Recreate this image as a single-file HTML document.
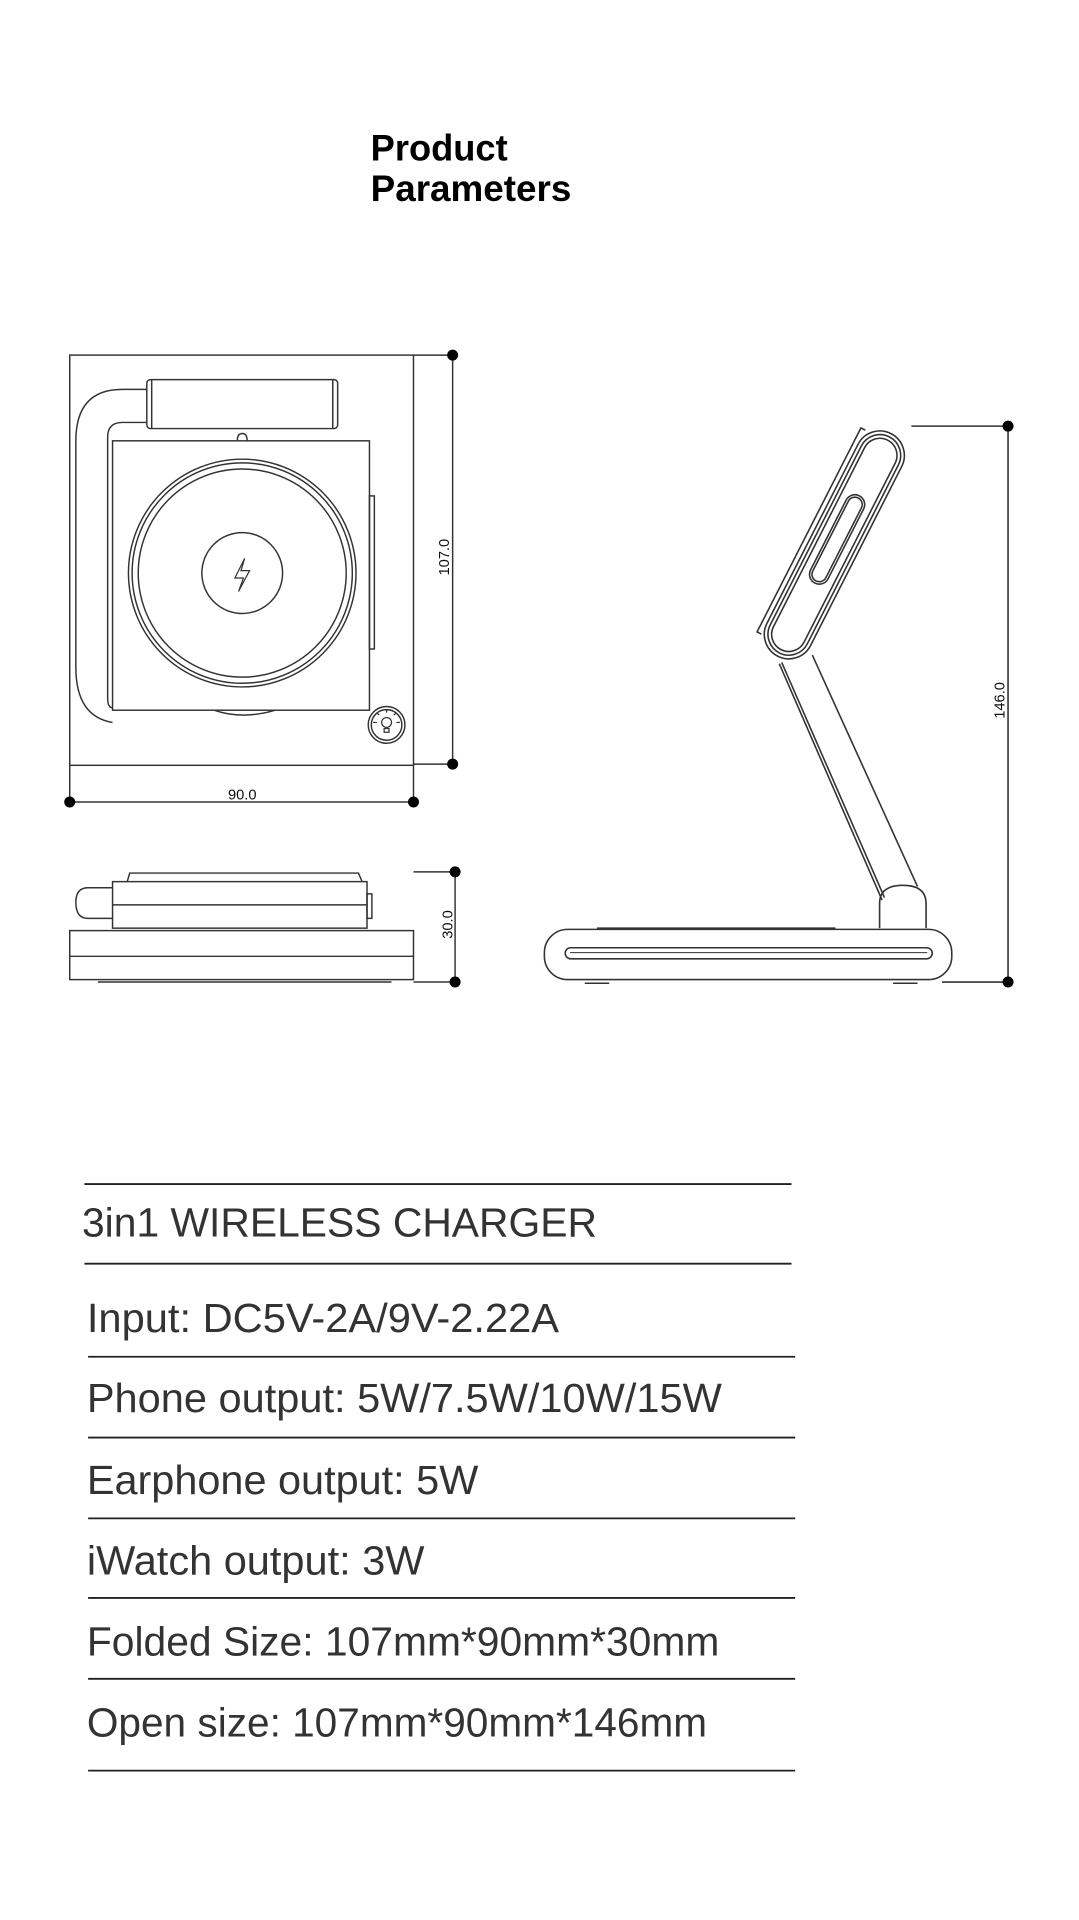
<!DOCTYPE html>
<html><head><meta charset="utf-8"><style>
html,body{margin:0;padding:0;background:#fff;}
svg{display:block;}
</style></head><body>
<svg width="1079" height="1920" viewBox="0 0 882 1568" preserveAspectRatio="none" xmlns="http://www.w3.org/2000/svg">
<rect width="882" height="1568" fill="#fff"/>
<g font-family="Liberation Sans, sans-serif" font-weight="bold" fill="#000" font-size="30">
<text x="303" y="131" textLength="112" lengthAdjust="spacingAndGlyphs">Product</text>
<text x="303" y="164" textLength="164" lengthAdjust="spacingAndGlyphs">Parameters</text>
</g>

<!-- Top view -->
<g fill="none" stroke="#333" stroke-width="1.2">
<rect x="57" y="290" width="281" height="335"/>
<line x1="338" y1="290" x2="370" y2="290"/>
<line x1="338" y1="624" x2="370" y2="624"/>
<line x1="370" y1="290" x2="370" y2="624"/>
<line x1="57" y1="625" x2="57" y2="655"/>
<line x1="338" y1="625" x2="338" y2="655"/>
<line x1="57" y1="655" x2="338" y2="655"/>
<rect x="120" y="310" width="156" height="40" rx="3"/>
<line x1="124" y1="310" x2="124" y2="350"/>
<line x1="272" y1="310" x2="272" y2="350"/>
<path d="M120 318 H100 Q62 318 62 360 V545 Q62 585 92 590"/>
<path d="M120 345 H100 Q88 345 88 357 V570 Q88 578 92 578"/>
<rect x="92" y="360" width="210" height="220"/>
<path d="M194 360 Q194 354 198 354 Q202 354 202 360"/>
<rect x="302" y="405" width="4" height="125"/>
<path d="M175 580 Q198 588 225 580"/>
<circle cx="198" cy="468" r="93"/>
<circle cx="198" cy="468" r="90"/>
<circle cx="198" cy="468" r="85"/>
<circle cx="198" cy="468" r="33"/>
<path d="M200 456 L192 472 H199 L195 483 L204 466 H197 Z" stroke-width="1"/>
<circle cx="316" cy="592" r="15"/>
<circle cx="316" cy="592" r="12.5"/>
<circle cx="316" cy="590" r="4" stroke-width="1"/>
<path d="M316 582 V579 M308 590 H305 M324 590 H327 M310 584 L308 582 M322 584 L324 582 M314 595 H318 V598 H314 Z" stroke-width="1"/>
</g>
<g fill="#000">
<circle cx="370" cy="290" r="4.5"/><circle cx="370" cy="624" r="4.5"/>
<circle cx="57" cy="655" r="4.5"/><circle cx="338" cy="655" r="4.5"/>
</g>
<g font-family="Liberation Sans, sans-serif" font-size="12" fill="#111">
<text x="198" y="653" text-anchor="middle">90.0</text>
<text transform="translate(367,455) rotate(-90)" text-anchor="middle">107.0</text>
<text transform="translate(370,755) rotate(-90)" text-anchor="middle">30.0</text>
<text transform="translate(821,572) rotate(-90)" text-anchor="middle">146.0</text>
</g>

<!-- Folded side view -->
<g fill="none" stroke="#333" stroke-width="1.2">
<path d="M104 720 L106 713 H293 L296 720"/>
<rect x="92" y="720" width="208" height="38"/>
<line x1="92" y1="739" x2="300" y2="739"/>
<rect x="300" y="730" width="4" height="20"/>
<path d="M92 725 H72 Q62 725 62 737 Q62 750 72 750 H92"/>
<rect x="57" y="760" width="281" height="40"/>
<line x1="57" y1="781" x2="338" y2="781"/>
<line x1="80" y1="802" x2="320" y2="802"/>
<line x1="338" y1="712" x2="372" y2="712"/>
<line x1="338" y1="802" x2="372" y2="802"/>
<line x1="372" y1="712" x2="372" y2="802"/>
</g>
<g fill="#000"><circle cx="372" cy="712" r="4.5"/><circle cx="372" cy="802" r="4.5"/></g>

<!-- Open side view -->
<g fill="none" stroke="#333" stroke-width="1.3">
<rect x="445" y="759" width="333" height="41" rx="19"/>
<rect x="462" y="774" width="300" height="9" rx="4.5"/>
<line x1="466" y1="778" x2="758" y2="778" stroke-width="0.8"/>
<line x1="488" y1="758" x2="683" y2="758"/>
<line x1="478" y1="803" x2="498" y2="803"/>
<line x1="730" y1="803" x2="750" y2="803"/>
<path d="M719 758 V738 Q719 723 738 723 Q757 723 757 738 V758"/>
<line x1="721" y1="735" x2="637" y2="542"/>
<line x1="723" y1="733" x2="639" y2="541"/>
<line x1="750" y1="724" x2="664" y2="535"/>
<g transform="translate(682,445) rotate(27)">
<rect x="-20" y="-102" width="40" height="204" rx="20"/>
<rect x="-17" y="-99" width="34" height="198" rx="17"/>
<rect x="-14" y="-96" width="28" height="192" rx="14"/>
<rect x="-8" y="-45" width="16" height="80" rx="8"/>
<rect x="-6" y="-43" width="12" height="76" rx="6"/>
<path d="M-20 -95 H-24 V92 H-20"/>
</g>
<line x1="745" y1="348" x2="824" y2="348"/>
<line x1="770" y1="802" x2="824" y2="802"/>
<line x1="824" y1="348" x2="824" y2="802"/>
</g>
<g fill="#000"><circle cx="824" cy="348" r="4.5"/><circle cx="824" cy="802" r="4.5"/></g>

<!-- Table -->
<g stroke="#222" stroke-width="1.5">
<line x1="69" y1="967" x2="647" y2="967"/>
<line x1="69" y1="1032" x2="647" y2="1032"/>
<line x1="72" y1="1108" x2="650" y2="1108"/>
<line x1="72" y1="1174" x2="650" y2="1174"/>
<line x1="72" y1="1240" x2="650" y2="1240"/>
<line x1="72" y1="1305" x2="650" y2="1305"/>
<line x1="72" y1="1371" x2="650" y2="1371"/>
<line x1="72" y1="1446" x2="650" y2="1446"/>
</g>
<g font-family="Liberation Sans, sans-serif" font-size="33" fill="#333">
<text x="67" y="1010" textLength="421" lengthAdjust="spacingAndGlyphs">3in1 WIRELESS CHARGER</text>
<text x="71" y="1088" textLength="386" lengthAdjust="spacingAndGlyphs">Input: DC5V-2A/9V-2.22A</text>
<text x="71" y="1153" textLength="519" lengthAdjust="spacingAndGlyphs">Phone output: 5W/7.5W/10W/15W</text>
<text x="71" y="1220" textLength="320" lengthAdjust="spacingAndGlyphs">Earphone output: 5W</text>
<text x="71" y="1286" textLength="276" lengthAdjust="spacingAndGlyphs">iWatch output: 3W</text>
<text x="71" y="1352" textLength="517" lengthAdjust="spacingAndGlyphs">Folded Size: 107mm*90mm*30mm</text>
<text x="71" y="1418" textLength="507" lengthAdjust="spacingAndGlyphs">Open size: 107mm*90mm*146mm</text>
</g>
</svg>
</body></html>
